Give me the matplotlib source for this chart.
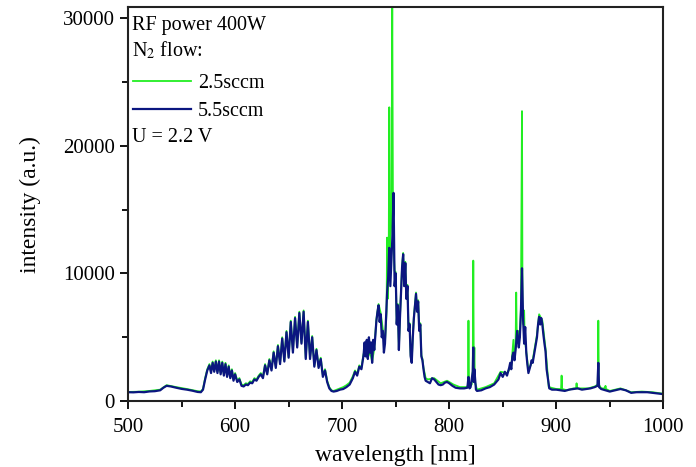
import numpy as np
import matplotlib
matplotlib.use('Agg')
import matplotlib.pyplot as plt
from matplotlib.ticker import MultipleLocator

matplotlib.rcParams.update({'font.family': 'Liberation Serif', 'font.size': 14,
                            'mathtext.fontset': 'stix'})

# 5.5 sccm spectrum (wavelength nm, intensity a.u.)
wl_55 = [500, 505, 510, 515, 520, 525, 530, 533, 536, 540, 545, 550, 555, 560, 565, 568,
         570, 572, 574, 576, 577.5, 579, 580.5, 582, 583.5, 585, 586.5, 588, 589.5, 591,
         592.5, 594, 595.5, 597, 598.5, 600, 602, 604, 606, 608, 610, 612, 614, 616, 618,
         620, 622, 624, 626, 628, 630, 632, 634, 636, 638, 640, 642, 644, 646, 648, 650,
         652, 654, 656, 658, 660, 662, 664, 666, 668, 670, 672, 674, 676, 678, 680, 682,
         684, 686, 688, 690, 692, 695, 698, 701, 704, 707, 710, 712, 714, 716, 718, 720,
         721, 722, 723, 724, 725, 726, 727, 728, 729, 730, 731, 732, 733, 734, 735, 736,
         737, 738, 739, 740, 741, 742, 743, 744, 745, 746, 747, 748, 749, 750, 751, 752,
         753, 754, 755, 756, 757, 758, 759, 760, 761, 762, 763, 764, 765, 766, 767, 768,
         769, 770, 771, 772, 773, 774, 775, 776, 777, 778, 780, 782, 784, 786, 788, 790,
         792, 794, 796, 798, 800, 803, 806, 810, 814, 817, 818, 819, 820, 822, 822.5, 823,
         823.5, 825, 826, 830, 834, 838, 842, 846, 848, 850, 852, 854, 856, 857, 858, 859,
         860, 861, 862, 863.5, 865, 866, 867, 868, 869, 870, 871, 872, 873, 874, 876, 877,
         878, 880, 882, 883, 884, 885, 886, 887, 888, 889, 890, 891, 892, 893.5, 896, 900,
         904, 908, 912, 916, 920, 924, 928, 932, 936, 938.5, 939.3, 940, 942, 946, 950,
         955, 960, 965, 970, 975, 980, 985, 990, 995, 1000]
int_55 = [700, 690, 720, 700, 760, 780, 850, 1050, 1200, 1150, 1050, 960, 900, 820, 720, 700,
          900, 1700, 2400, 2800, 2200, 3000, 2300, 3100, 2200, 3100, 2100, 3000, 2000, 2900,
          1900, 2700, 1800, 2400, 1600, 2100, 1500, 1700, 1200, 1150, 1300, 1250, 1450, 1400, 1700,
          1600, 1900, 2100, 1800, 2800, 2100, 3200, 2400, 3800, 2600, 4300, 2900, 4900, 3100, 5400, 3400,
          6200, 3800, 6500, 4200, 6900, 4500, 7000, 3300, 6200, 3300, 5000, 2700, 4000, 2600, 3300, 1900,
          2400, 1500, 1000, 800, 750, 800, 900, 950, 1100, 1300, 1800, 2300, 2000, 2700, 2500, 3600,
          4600, 3500, 4800, 3300, 5000, 3800, 4600, 3000, 4800, 4000, 5200, 6300, 7000, 7500, 6200, 6800,
          5000, 5500, 3800, 4500, 6500, 8500, 9700, 12000, 9000, 11000, 13000, 16300, 9000, 10000, 6000, 7500,
          4000, 6500, 8500, 10500, 11500, 9000, 10800, 8000, 9000, 5500, 6000, 3500, 3000, 5000, 6500, 7500,
          8400, 7000, 7800, 5500, 6000, 3500, 3200, 2500, 1900, 1600, 1500, 1400, 1800, 1700, 1500, 1300,
          1250, 1300, 1450, 1500, 1400, 1200, 1050, 1000, 1000, 1050, 1900, 1000, 1100, 2300, 4200, 1500,
          2500, 900, 800, 850, 1000, 1100, 1300, 1700, 2200, 1900, 2300, 2000, 2600, 3000, 2500, 3500,
          3800, 3200, 4000, 5500, 4200, 5000, 7000, 10400, 6500, 4500, 5800, 3800, 2900, 2200, 2800, 3200,
          3000, 4000, 5000, 6000, 6600, 6000, 6500, 6000, 5200, 4500, 3900, 2500, 1900, 1000, 900, 900,
          850, 800, 900, 950, 1000, 900, 950, 1000, 1100, 1200, 3000, 1100, 950, 850, 750,
          850, 950, 850, 650, 700, 700, 700, 650, 600, 550]

# 2.5 sccm spectrum
wl_25 = [500, 510, 520, 530, 536, 545, 555, 565, 568,
         570, 572, 574, 576, 577.5, 579, 580.5, 582, 583.5, 585, 586.5, 588, 589.5, 591,
         592.5, 594, 595.5, 597, 598.5, 600, 602, 604, 606, 608, 610, 612, 614, 616, 618,
         620, 622, 624, 626, 628, 630, 632, 634, 636, 638, 640, 642, 644, 646, 648, 650,
         652, 654, 656, 658, 660, 662, 664, 666, 668, 670, 672, 674, 676, 678, 680, 682,
         684, 686, 688, 690, 692, 695, 698, 701, 704, 707, 710, 712, 714, 716, 718, 720,
         722, 724, 726, 728, 730, 732, 734, 736, 738, 740, 741.5, 742, 742.5, 743.5, 744,
         744.5, 746, 746.8, 747.5, 748, 749, 750, 751, 752, 753, 754, 755, 756, 757, 758,
         759, 760, 761, 762, 763, 764, 765, 766, 767, 768, 769, 770, 771, 772, 773, 774,
         775, 776, 778, 780, 786, 792, 798, 804, 810, 816, 817.5, 818, 818.5, 821, 822,
         822.5, 823, 823.5, 824, 826, 834, 842, 848, 854, 858, 860, 860.5, 862, 862.6,
         863.2, 865, 866, 867, 868, 868.5, 869.5, 870, 870.5, 874, 878, 882, 884, 887, 890,
         893, 900, 904.5, 905, 905.5, 910, 916, 918.5, 919, 919.5, 922, 930, 936, 938.8,
         939.3, 939.8, 942, 945.5, 946, 946.5, 950, 960, 970, 980, 990, 1000]
int_25 = [720, 740, 800, 900, 1250, 1100, 950, 780, 760,
          950, 1800, 2500, 2900, 2300, 3100, 2400, 3200, 2300, 3200, 2200, 3100, 2100, 3000,
          2000, 2800, 1900, 2500, 1700, 2200, 1600, 1800, 1300, 1250, 1400, 1350, 1550, 1500, 1800,
          1700, 2000, 2200, 1900, 2900, 2200, 3300, 2500, 3900, 2700, 4400, 3000, 5000, 3200, 5500, 3500,
          6300, 3900, 6600, 4300, 7000, 4600, 7100, 3400, 6300, 3400, 5100, 2800, 4100, 2700, 3400, 2000,
          2500, 1600, 1100, 850, 800, 900, 1000, 1100, 1250, 1450, 1950, 2400, 2100, 2800, 2600, 3700,
          3600, 3400, 3900, 3100, 4100, 6400, 7600, 6900, 5600, 4600, 7000, 12800, 8000, 11000, 23000,
          12000, 14000, 31500, 14000, 12000, 10200, 10100, 6100, 7600, 4100, 6600, 8600, 10600, 11600, 9100,
          10900, 8100, 9100, 5600, 6100, 3600, 3100, 5100, 6600, 7600, 8500, 7100, 7900, 5600, 6100, 3600,
          3300, 2600, 1800, 1700, 1800, 1400, 1600, 1300, 1100, 1100, 1200, 6300, 1200, 1300, 2400,
          11000, 2000, 4200, 1500, 900, 1100, 1400, 2300, 2200, 2700, 4800, 3300, 4200, 8500,
          4500, 5500, 5000, 7200, 22700, 7000, 6000, 7100, 5000, 2400, 3200, 5200, 6800, 6300, 4100,
          1100, 950, 950, 2000, 950, 850, 1000, 1000, 1400, 1000, 1000, 1000, 1150, 1300,
          6300, 1300, 1000, 1000, 1200, 950, 800, 1000, 700, 750, 700, 580]

fig = plt.figure(figsize=(6.96, 4.67), dpi=100)
ax = fig.add_axes([0.184, 0.141, 0.769, 0.844])

ax.plot(wl_25, int_25, color='#22ee22', lw=1.3, label='2.5sccm')
ax.plot(wl_55, int_55, color='#0b1680', lw=1.6, label='5.5sccm')

ax.set_xlim(500, 1000)
ax.set_ylim(0, 30850)
ax.xaxis.set_major_locator(MultipleLocator(100))
ax.xaxis.set_minor_locator(MultipleLocator(50))
ax.yaxis.set_major_locator(MultipleLocator(10000))
ax.yaxis.set_minor_locator(MultipleLocator(5000))
ax.tick_params(which='major', direction='out', length=6, width=1.3, labelsize=15)
ax.tick_params(axis='x', which='major', pad=6)
ax.tick_params(which='minor', direction='out', length=4, width=1.3)
for s in ax.spines.values():
    s.set_linewidth(1.5)
    s.set_color('#222222')

ax.set_xlabel('wavelength [nm]', fontsize=17, labelpad=6)
ax.set_ylabel('intensity (a.u.)', fontsize=17, labelpad=16)

ax.text(0.008, 0.978, 'RF power 400W', transform=ax.transAxes, va='top', ha='left', fontsize=14.5)
ax.text(0.008, 0.918, r'N$_{2}$ flow:', transform=ax.transAxes, va='top', ha='left', fontsize=14.5)
ax.text(0.008, 0.692, 'U = 2.2 V', transform=ax.transAxes, va='top', ha='left', fontsize=14.5)
ax.legend(loc='upper left', bbox_to_anchor=(-0.018, 0.865), frameon=False, fontsize=14.5,
          handlelength=2.9, handletextpad=0.35, labelspacing=0.4, borderpad=0.2)

fig.savefig('out.png', dpi=100)
